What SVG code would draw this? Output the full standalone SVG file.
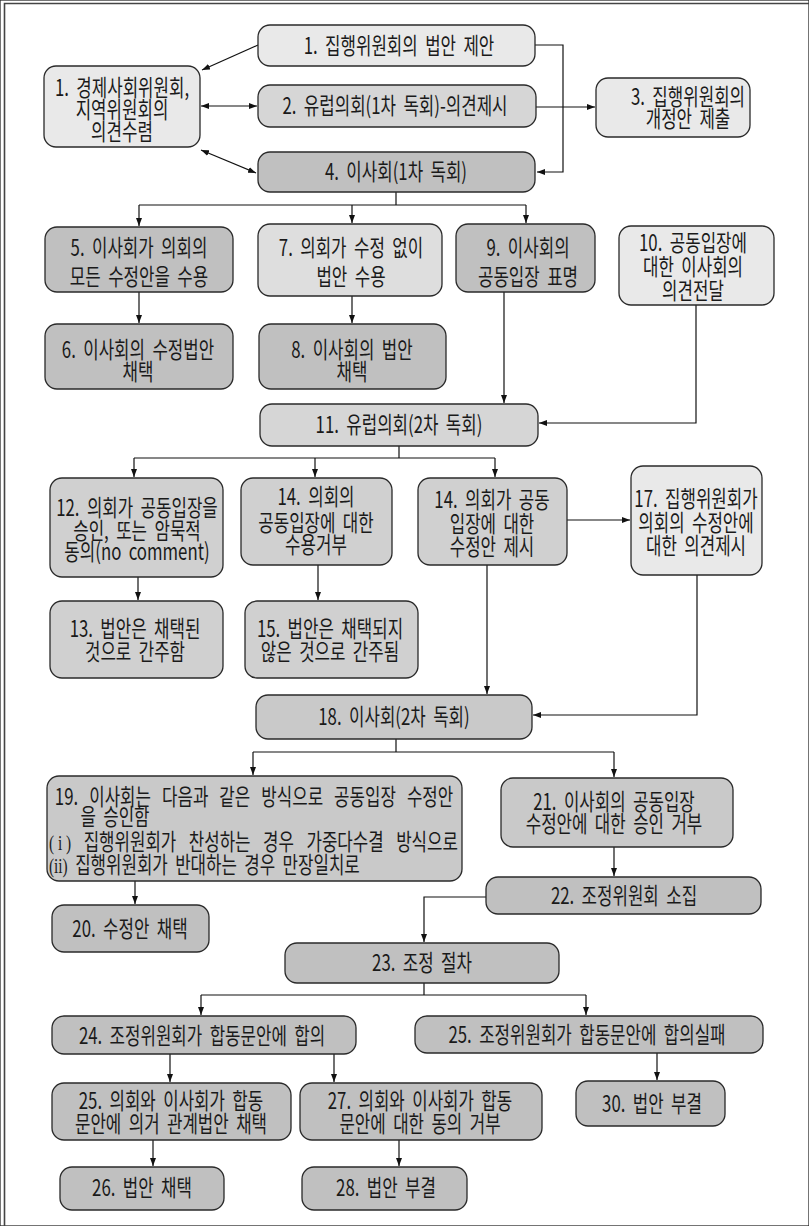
<svg xmlns="http://www.w3.org/2000/svg" width="809" height="1226" viewBox="0 0 809 1226">
<defs>
<marker id="ah" viewBox="0 0 8 6" refX="8" refY="3" markerWidth="8" markerHeight="6" markerUnits="userSpaceOnUse" orient="auto-start-reverse"><path d="M0,0 L8,3 L0,6 z" fill="#111"/></marker>
<style>
rect{stroke:#2a2a2a;stroke-width:1.3}
.l{fill:#e9e9e9}
.m7{fill:#dedede}
.m{fill:#d6d6d6}
.c{fill:#d0d0d0}
.md{fill:#c9c9c9}
.d{fill:#c0c0c0}
text{font-family:"Noto Sans CJK KR","Noto Sans CJK SC",sans-serif;font-size:23px;fill:#1a1a1a;text-anchor:middle;word-spacing:5px}
text.s{text-anchor:start}
.sf{font-family:"Liberation Serif",serif;font-size:21px}
#conn path{fill:none;stroke:#111;stroke-width:1.2}
.a{marker-end:url(#ah)}
.b{marker-start:url(#ah);marker-end:url(#ah)}
</style>
</defs>
<rect width="809" height="1226" fill="#fff" stroke="none"/>
<path d="M4.5,1226 V3.5 H809" fill="none" stroke="#444" stroke-width="1.6"/>
<g id="conn">
<path class="a" d="M258,45 L202,70"/>
<path class="b" d="M201,106 H257"/>
<path class="b" d="M201,150 L256,173"/>
<path class="a" d="M535,45 H563 V172 H537"/>
<path class="a" d="M536,107 H595"/>
<path d="M396,192 V205 M139,205 H526"/>
<path class="a" d="M139,205 V226"/>
<path class="a" d="M352,205 V223"/>
<path class="a" d="M526,205 V223"/>
<path class="a" d="M139,292 V323"/>
<path class="a" d="M352,296 V323"/>
<path class="a" d="M504,292 V403"/>
<path class="a" d="M696,305 V423 H539"/>
<path d="M399,446 V458 M134,458 H495"/>
<path class="a" d="M134,458 V477"/>
<path class="a" d="M315,458 V477"/>
<path class="a" d="M495,458 V477"/>
<path class="a" d="M567,520 H630"/>
<path class="a" d="M138,577 V600"/>
<path class="a" d="M318,565 V600"/>
<path class="a" d="M487,565 V694"/>
<path class="a" d="M697,575 V715 H533"/>
<path d="M396,739 V752 M253,752 H614"/>
<path class="a" d="M253,752 V775"/>
<path class="a" d="M614,752 V777"/>
<path class="a" d="M614,847 V876"/>
<path class="a" d="M135,881 V904"/>
<path class="a" d="M486,897 H424 V942"/>
<path d="M424,983 V995 M201,995 H586"/>
<path class="a" d="M201,995 V1015"/>
<path class="a" d="M586,995 V1015"/>
<path class="a" d="M170,1054 V1082"/>
<path class="a" d="M334,1054 V1082"/>
<path class="a" d="M657,1053 V1080"/>
<path class="a" d="M153,1140 V1166"/>
<path class="a" d="M399,1140 V1166"/>
</g>
<g id="n1"><rect class="l" x="258" y="25" width="277" height="41" rx="12"/><text transform="translate(399,0) scale(0.73,1)"><tspan x="0" y="54">1. 집행위원회의 법안 제안</tspan></text></g>
<g id="n1b"><rect class="l" x="44" y="66" width="156" height="81" rx="12"/><text transform="translate(122,0) scale(0.73,1)"><tspan x="0" y="96.5">1. 경제사회위원회,</tspan><tspan x="0" y="118.5">지역위원회의</tspan><tspan x="0" y="140.5">의견수렴</tspan></text></g>
<g id="n2"><rect class="m" x="258" y="85" width="278" height="42" rx="12"/><text transform="translate(395,0) scale(0.73,1)"><tspan x="0" y="114.5">2. 유럽의회(1차 독회)-의견제시</tspan></text></g>
<g id="n3"><rect class="l" x="596" y="78" width="154" height="59" rx="12"/><text transform="translate(688,0) scale(0.73,1)"><tspan x="0" y="105.5">3. 집행위원회의</tspan><tspan x="0" y="127.5">개정안 제출</tspan></text></g>
<g id="n4"><rect class="d" x="258" y="152" width="277" height="40" rx="12"/><text transform="translate(396,0) scale(0.73,1)"><tspan x="0" y="180.5">4. 이사회(1차 독회)</tspan></text></g>
<g id="n5"><rect class="d" x="45" y="227" width="188" height="65" rx="12"/><text transform="translate(139,0) scale(0.73,1)"><tspan x="0" y="256.5">5. 이사회가 의회의</tspan><tspan x="0" y="285.5">모든 수정안을 수용</tspan></text></g>
<g id="n7"><rect class="m7" x="258" y="224" width="184" height="72" rx="12"/><text transform="translate(351,0) scale(0.73,1)"><tspan x="0" y="256.5">7. 의회가 수정 없이</tspan><tspan x="0" y="285.5">법안 수용</tspan></text></g>
<g id="n9"><rect class="d" x="456" y="224" width="139" height="68" rx="12"/><text transform="translate(528,0) scale(0.73,1)"><tspan x="0" y="256.5">9. 이사회의</tspan><tspan x="0" y="285.5">공동입장 표명</tspan></text></g>
<g id="n10"><rect class="l" x="619" y="226" width="155" height="79" rx="12"/><text transform="translate(693,0) scale(0.73,1)"><tspan x="0" y="251.5">10. 공동입장에</tspan><tspan x="0" y="275.5">대한 이사회의</tspan><tspan x="0" y="299.5">의견전달</tspan></text></g>
<g id="n6"><rect class="d" x="45" y="324" width="188" height="65" rx="12"/><text transform="translate(138,0) scale(0.73,1)"><tspan x="0" y="358.5">6. 이사회의 수정법안</tspan><tspan x="0" y="380.5">채택</tspan></text></g>
<g id="n8"><rect class="d" x="259" y="324" width="187" height="65" rx="12"/><text transform="translate(352,0) scale(0.73,1)"><tspan x="0" y="358.5">8. 이사회의 법안</tspan><tspan x="0" y="380.5">채택</tspan></text></g>
<g id="n11"><rect class="m" x="260" y="404" width="278" height="42" rx="12"/><text transform="translate(399,0) scale(0.73,1)"><tspan x="0" y="433.5">11. 유럽의회(2차 독회)</tspan></text></g>
<g id="n12"><rect class="c" x="50" y="478" width="173" height="99" rx="12"/><text transform="translate(137,0) scale(0.73,1)"><tspan x="0" y="516.5">12. 의회가 공동입장을</tspan><tspan x="0" y="539.5">승인, 또는 암묵적</tspan><tspan x="0" y="560.5">동의(no comment)</tspan></text></g>
<g id="n14a"><rect class="c" x="241" y="478" width="151" height="87" rx="12"/><text transform="translate(316,0) scale(0.73,1)"><tspan x="0" y="505.5">14. 의회의</tspan><tspan x="0" y="530.5">공동입장에 대한</tspan><tspan x="0" y="553.5">수용거부</tspan></text></g>
<g id="n14b"><rect class="c" x="418" y="478" width="149" height="87" rx="12"/><text transform="translate(492,0) scale(0.73,1)"><tspan x="0" y="508.5">14. 의회가 공동</tspan><tspan x="0" y="532.5">입장에 대한</tspan><tspan x="0" y="555.5">수정안 제시</tspan></text></g>
<g id="n17"><rect class="l" x="631" y="466" width="131" height="109" rx="12"/><text transform="translate(696,0) scale(0.73,1)"><tspan x="0" y="507.5">17. 집행위원회가</tspan><tspan x="0" y="530.5">의회의 수정안에</tspan><tspan x="0" y="554.5">대한 의견제시</tspan></text></g>
<g id="n13"><rect class="c" x="50" y="601" width="173" height="77" rx="12"/><text transform="translate(135,0) scale(0.73,1)"><tspan x="0" y="637.5">13. 법안은 채택된</tspan><tspan x="0" y="660.5">것으로 간주함</tspan></text></g>
<g id="n15"><rect class="c" x="245" y="601" width="173" height="77" rx="12"/><text transform="translate(330,0) scale(0.73,1)"><tspan x="0" y="637.5">15. 법안은 채택되지</tspan><tspan x="0" y="660.5">않은 것으로 간주됨</tspan></text></g>
<g id="n18"><rect class="md" x="256" y="695" width="276" height="44" rx="12"/><text transform="translate(394,0) scale(0.73,1)"><tspan x="0" y="725.5">18. 이사회(2차 독회)</tspan></text></g>
<g id="n19"><rect class="md" x="47" y="776" width="415" height="105" rx="12"/>
<text class="s" transform="translate(49,0) scale(0.73,1)" x="8" y="805.5" style="word-spacing:10px">19. 이사회는 다음과 같은 방식으로 공동입장 수정안</text>
<text class="s" transform="translate(49,0) scale(0.73,1)" x="43" y="825.5">을 승인함</text>
<text class="s" transform="translate(49,0) scale(0.73,1)" x="0" y="850.5" style="word-spacing:12px"><tspan class="sf" style="word-spacing:0">( i )</tspan> 집행위원회가 찬성하는 경우 가중다수결 방식으로</text>
<text class="s" transform="translate(49,0) scale(0.73,1)" x="0" y="873.5"><tspan class="sf" style="word-spacing:0">(ii)</tspan> 집행위원회가 반대하는 경우 만장일치로</text></g>
<g id="n20"><rect class="d" x="52" y="905" width="157" height="47" rx="12"/><text transform="translate(130,0) scale(0.73,1)"><tspan x="0" y="937.5">20. 수정안 채택</tspan></text></g>
<g id="n21"><rect class="md" x="501" y="778" width="232" height="69" rx="12"/><text transform="translate(614,0) scale(0.73,1)"><tspan x="0" y="810.5">21. 이사회의 공동입장</tspan><tspan x="0" y="832.5">수정안에 대한 승인 거부</tspan></text></g>
<g id="n22"><rect class="d" x="486" y="877" width="275" height="37" rx="12"/><text transform="translate(624,0) scale(0.73,1)"><tspan x="0" y="904.5">22. 조정위원회 소집</tspan></text></g>
<g id="n23"><rect class="d" x="285" y="943" width="274" height="40" rx="12"/><text transform="translate(422,0) scale(0.73,1)"><tspan x="0" y="971.5">23. 조정 절차</tspan></text></g>
<g id="n24"><rect class="d" x="52" y="1016" width="304" height="38" rx="12"/><text transform="translate(202,0) scale(0.73,1)"><tspan x="0" y="1044.5">24. 조정위원회가 합동문안에 합의</tspan></text></g>
<g id="n25a"><rect class="d" x="415" y="1016" width="348" height="37" rx="12"/><text transform="translate(587,0) scale(0.73,1)"><tspan x="0" y="1043.5">25. 조정위원회가 합동문안에 합의실패</tspan></text></g>
<g id="n25b"><rect class="d" x="52" y="1083" width="239" height="57" rx="12"/><text transform="translate(171,0) scale(0.73,1)"><tspan x="0" y="1109.5">25. 의회와 이사회가 합동</tspan><tspan x="0" y="1132.5">문안에 의거 관계법안 채택</tspan></text></g>
<g id="n27"><rect class="d" x="300" y="1083" width="242" height="57" rx="12"/><text transform="translate(420,0) scale(0.73,1)"><tspan x="0" y="1109.5">27. 의회와 이사회가 합동</tspan><tspan x="0" y="1132.5">문안에 대한 동의 거부</tspan></text></g>
<g id="n30"><rect class="d" x="576" y="1081" width="149" height="45" rx="12"/><text transform="translate(652,0) scale(0.73,1)"><tspan x="0" y="1112.5">30. 법안 부결</tspan></text></g>
<g id="n26"><rect class="d" x="60" y="1167" width="164" height="43" rx="12"/><text transform="translate(142,0) scale(0.73,1)"><tspan x="0" y="1196.5">26. 법안 채택</tspan></text></g>
<g id="n28"><rect class="d" x="302" y="1167" width="165" height="43" rx="12"/><text transform="translate(386,0) scale(0.73,1)"><tspan x="0" y="1196.5">28. 법안 부결</tspan></text></g>
</svg>
